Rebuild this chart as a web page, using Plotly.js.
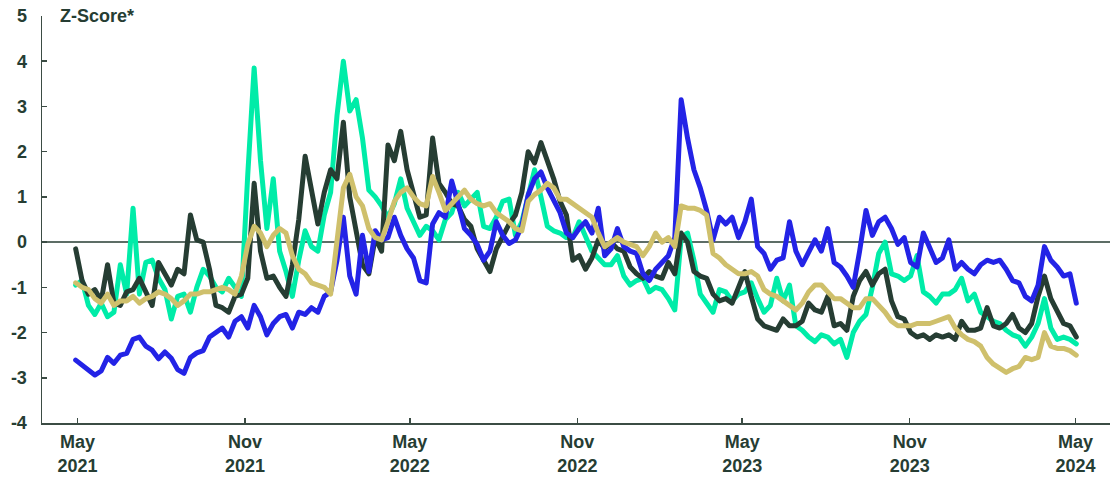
<!DOCTYPE html>
<html>
<head>
<meta charset="utf-8">
<script src="https://cdn.plot.ly/plotly-3.0.1.min.js"></script>
<style>
html,body{margin:0;padding:0;background:#fff;}
#chart{width:1115px;height:477px;}
#chart .js-line{stroke-linejoin:round;stroke-linecap:round;}
</style>
</head>
<body>
<div id="chart"></div>
<script>
// Weekly observations, starting 2021-04-29
const startDate = '2021-04-29';

const seriesBlue = [
-2.61,-2.72,-2.80,-2.94,-2.85,-2.55,-2.68,-2.50,-2.46,-2.15,
-2.10,-2.30,-2.39,-2.58,-2.43,-2.57,-2.82,-2.90,-2.55,-2.45,
-2.40,-2.10,-2.00,-1.90,-2.10,-1.75,-1.65,-1.90,-1.40,-1.65,
-2.05,-1.80,-1.65,-1.60,-1.90,-1.55,-1.60,-1.45,-1.55,-1.20,
-1.10,-0.40,0.55,-0.75,-1.15,0.15,-0.65,0.25,0.05,0.10,
0.55,0.15,-0.15,-0.35,-0.85,-0.90,0.40,0.65,0.55,1.35,
0.85,0.30,0.15,-0.05,-0.40,-0.20,0.45,0.15,-0.03,0.05,
0.35,1.05,1.40,1.55,1.20,0.95,0.65,0.20,0.10,0.30,
0.45,0.20,0.75,-0.30,-0.15,0.30,-0.10,-0.20,-0.25,-0.70,
-0.85,-0.60,-0.45,-0.30,0.10,3.15,2.30,1.60,1.20,0.70,
0.05,0.55,0.40,0.55,0.10,0.45,0.95,-0.10,-0.25,-0.60,
-0.40,-0.35,0.45,-0.20,-0.50,-0.20,0.05,-0.20,0.30,-0.45,
-0.55,-0.75,-1.00,-0.20,0.70,0.15,0.45,0.55,0.30,-0.05,
0.10,-0.45,-0.55,0.20,-0.15,-0.45,-0.35,0.05,-0.60,-0.45,
-0.60,-0.70,-0.50,-0.40,-0.45,-0.40,-0.60,-0.85,-0.90,-1.20,
-1.30,-0.95,-0.10,-0.40,-0.55,-0.75,-0.70,-1.35
];

const seriesDark = [
-0.15,-0.85,-1.15,-1.05,-1.30,-0.50,-1.35,-1.40,-1.10,-1.05,
-0.80,-1.10,-1.40,-0.45,-0.70,-0.95,-0.60,-0.70,0.60,0.05,
0.00,-0.60,-1.40,-1.45,-1.55,-1.20,-1.15,-0.80,1.30,-0.20,
-0.80,-0.75,-1.00,-1.20,-0.50,0.50,1.90,1.10,0.40,1.10,
1.60,1.40,2.65,1.00,0.20,-0.50,-0.70,0.10,-0.20,2.15,
1.80,2.45,1.60,1.05,0.55,0.60,2.30,1.30,1.10,0.85,
0.80,0.50,0.35,-0.15,-0.40,-0.65,-0.15,0.15,0.40,0.60,
1.10,2.00,1.75,2.20,1.80,1.40,0.90,0.60,-0.40,-0.30,
-0.60,-0.35,0.05,-0.15,0.00,-0.15,-0.20,-0.55,-0.70,-0.80,
-0.65,-0.75,-0.80,-0.45,-0.70,0.20,0.00,-0.65,-0.75,-0.80,
-1.15,-1.30,-1.25,-1.35,-1.00,-0.65,-1.20,-1.70,-1.85,-1.90,
-1.95,-1.70,-1.85,-1.85,-1.75,-1.35,-1.50,-1.55,-1.20,-1.85,
-1.80,-1.95,-1.20,-0.85,-0.65,-0.95,-0.70,-0.60,-1.30,-1.65,
-1.70,-2.00,-2.10,-2.05,-2.15,-2.05,-2.10,-2.05,-2.15,-1.75,
-1.95,-1.95,-1.90,-1.45,-1.85,-1.90,-1.80,-1.60,-1.90,-2.00,
-1.80,-1.20,-0.75,-1.25,-1.55,-1.80,-1.85,-2.10
];

const seriesTeal = [
-0.95,-0.85,-1.40,-1.60,-1.35,-1.65,-1.55,-0.50,-1.15,0.75,
-1.15,-0.45,-0.40,-0.80,-1.05,-1.70,-1.20,-1.15,-1.55,-1.00,
-0.60,-0.75,-1.00,-1.10,-0.80,-1.00,-1.20,1.50,3.85,1.80,
0.30,1.40,-0.20,-0.65,-1.20,-0.40,0.25,-0.10,-0.20,0.60,
1.10,2.80,4.00,2.90,3.15,2.30,1.15,1.00,0.80,0.55,
0.85,1.40,0.75,0.45,0.15,0.35,0.25,0.05,0.50,0.65,
1.10,0.80,0.95,1.10,0.35,0.30,0.55,0.90,0.95,0.15,
0.45,1.00,1.60,1.00,0.35,0.25,0.20,0.10,0.10,0.45,
0.10,-0.20,-0.35,-0.50,-0.50,-0.30,-0.75,-0.95,-0.85,-0.80,
-1.10,-1.00,-1.05,-1.25,-1.50,0.10,0.20,-0.40,-1.15,-1.35,
-1.55,-1.05,-1.10,-1.30,-1.15,-1.10,-0.90,-1.25,-1.55,-1.40,
-0.80,-1.30,-0.95,-1.85,-1.95,-2.10,-2.20,-2.05,-2.10,-2.25,
-2.15,-2.55,-2.00,-1.75,-1.60,-1.00,-0.25,0.00,-0.70,-0.75,
-0.85,-0.75,-0.30,-1.10,-1.20,-1.35,-1.15,-1.15,-1.05,-0.80,
-1.30,-1.15,-1.55,-1.65,-1.75,-1.80,-1.95,-2.05,-2.10,-2.30,
-2.10,-1.80,-1.25,-1.90,-2.15,-2.10,-2.15,-2.25
];

const seriesKhaki = [
-0.90,-1.00,-1.05,-1.25,-1.35,-1.15,-1.40,-1.30,-1.30,-1.20,
-1.35,-1.25,-1.20,-1.10,-1.15,-1.25,-1.40,-1.30,-1.15,-1.15,
-1.10,-1.10,-1.05,-1.00,-1.05,-1.15,-0.75,-0.05,0.35,0.20,
-0.10,0.15,0.30,0.20,-0.30,-0.60,-0.70,-0.90,-0.95,-1.00,
-1.15,0.00,1.20,1.50,1.00,0.80,0.30,0.10,0.05,0.45,
0.90,1.10,1.20,1.00,0.85,0.80,1.45,1.10,0.70,0.85,
1.00,1.15,0.95,0.85,0.80,0.85,0.65,0.55,0.45,0.30,
0.25,0.90,1.05,1.15,1.30,1.20,0.95,0.95,0.85,0.75,
0.65,0.55,0.20,-0.10,0.00,0.10,0.00,-0.05,-0.10,-0.30,
-0.10,0.20,0.00,0.10,-0.10,0.80,0.75,0.75,0.70,0.60,
-0.25,-0.35,-0.50,-0.60,-0.70,-0.70,-0.65,-0.75,-1.05,-1.15,
-1.20,-1.30,-1.40,-1.50,-1.35,-1.10,-0.95,-0.95,-1.10,-1.25,
-1.25,-1.35,-1.45,-1.45,-1.25,-1.25,-1.40,-1.55,-1.75,-1.85,
-1.85,-1.85,-1.80,-1.80,-1.80,-1.75,-1.70,-1.65,-1.90,-2.05,
-2.15,-2.20,-2.30,-2.55,-2.70,-2.80,-2.88,-2.80,-2.75,-2.55,
-2.60,-2.55,-2.00,-2.30,-2.35,-2.35,-2.40,-2.50
];

const xTickVals = ['2021-05-01','2021-11-01','2022-05-01','2022-11-01','2023-05-01','2023-11-01','2024-05-01'];
const xTickText = ['May<br>2021','Nov<br>2021','May<br>2022','Nov<br>2022','May<br>2023','Nov<br>2023','May<br>2024'];
const yTickVals = [-4,-3,-2,-1,0,1,2,3,4,5];
const yTickText = ['-4','-3','-2','-1','0','1','2','3','4','5'];

// weekly date axis
const dates = [];
const d0 = new Date(startDate + 'T00:00:00Z');
for (let i = 0; i < seriesBlue.length; i++) {
  const d = new Date(d0.getTime() + i * 7 * 86400000);
  dates.push(d.toISOString().slice(0, 10));
}

const ink = '#263d33';
const font = "'Liberation Sans', Arial, sans-serif";

function tr(y, color) {
  return {x: dates, y: y, type: 'scatter', mode: 'lines',
    line: {color: color, width: 5, shape: 'linear'}, hoverinfo: 'skip'};
}

const data = [
  tr(seriesTeal, '#00eca8'),
  tr(seriesDark, '#263d33'),
  tr(seriesBlue, '#2323e6'),
  tr(seriesKhaki, '#cfc06c')
];

const layout = {
  width: 1115, height: 477,
  margin: {l: 42, r: 5, t: 16, b: 54},
  paper_bgcolor: '#ffffff', plot_bgcolor: '#ffffff',
  showlegend: false,
  font: {family: font, color: ink},
  xaxis: {
    type: 'date',
    range: ['2021-03-23', '2024-06-08'],
    tickmode: 'array', tickvals: xTickVals, ticktext: xTickText,
    ticks: 'inside', ticklen: 5, tickwidth: 1.5, tickcolor: '#3b4c44',
    showline: true, linecolor: '#3b4c44', linewidth: 1.5,
    showgrid: false, zeroline: false,
    tickfont: {family: font, size: 18, color: ink, weight: 700},
    ticklabelstandoff: 2
  },
  yaxis: {
    range: [-4, 5],
    tickmode: 'array', tickvals: yTickVals, ticktext: yTickText,
    ticks: 'inside', ticklen: 5, tickwidth: 1.5, tickcolor: '#3b4c44',
    showline: true, linecolor: '#3b4c44', linewidth: 1.5,
    showgrid: false,
    zeroline: true, zerolinecolor: '#5d6d66', zerolinewidth: 1.5,
    tickfont: {family: font, size: 18, color: ink, weight: 700},
    ticklabelstandoff: 10
  },
  annotations: [{
    text: 'Z-Score*', xref: 'paper', yref: 'paper',
    x: 0.015, y: 1, xanchor: 'left', yanchor: 'middle',
    showarrow: false,
    font: {family: font, size: 18, color: ink, weight: 700}
  }]
};

Plotly.newPlot('chart', data, layout, {displayModeBar: false, staticPlot: true});
</script>
</body>
</html>
